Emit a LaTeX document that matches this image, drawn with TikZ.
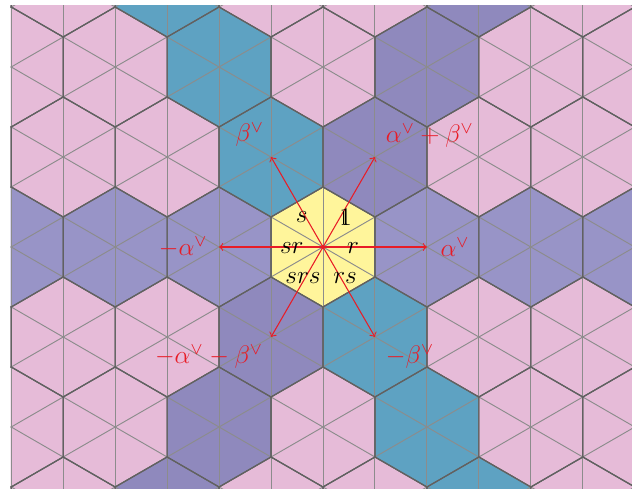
\documentclass[tikz,border=0pt]{standalone}
\usetikzlibrary{calc}
\definecolor{hpink}{RGB}{230,187,216}
\definecolor{hteal}{RGB}{94,162,194}
\definecolor{hdpurp}{RGB}{143,137,189}
\definecolor{hlpurp}{RGB}{152,148,199}
\definecolor{hyell}{RGB}{255,245,155}
\definecolor{hred}{RGB}{232,28,38}
\newcommand{\dsone}{{\rlap{\kern0.155em\vrule height0.56em depth-0.035em width0.03em}1}}
\begin{document}
\begin{tikzpicture}[x=1cm,y=1cm,
  gridline/.style={draw=black!45, line width=0.45pt},
  hexborder/.style={draw=black!62, line width=0.55pt},
  rootarrow/.style={draw=hred, line width=0.5pt, ->},
  rootlabel/.style={text=hred, font=\large, inner sep=1pt},
  wordlabel/.style={text=black, font=\large, inner sep=1pt}]
\useasboundingbox (-5.3833,-4.0333) rectangle (5.15,4.1167);
\begin{scope}
\clip (-5.205,-4.1) rectangle (5.2,4.02);
% hexagon fills
\foreach \m in {-6,...,6}{
  \foreach \n in {-3,...,3}{
    \pgfmathsetmacro{\cx}{sqrt(3)*\m - sqrt(3)/2*\n}
    \pgfmathsetmacro{\cy}{1.5*\n}
    \def\hcol{hpink}
    \ifnum\n=0 \def\hcol{hlpurp}\fi
    \ifnum\m=0 \def\hcol{hteal}\fi
    \ifnum\m=\n \def\hcol{hdpurp}\fi
    \ifnum\m=0 \ifnum\n=0 \def\hcol{hyell}\fi\fi
    \fill[\hcol, shift={(\cx,\cy)}] (30:1.005) -- (90:1.005) -- (150:1.005) -- (210:1.005) -- (270:1.005) -- (330:1.005) -- cycle;
  }
}
% triangle grid
\foreach \k in {-7,...,7}{
  \draw[gridline] ({\k*sqrt(3)/2},-4.5) -- ({\k*sqrt(3)/2},4.5);
}
\foreach \k in {-9,...,9}{
  \draw[gridline] (-6,{-6/sqrt(3)+\k}) -- (6,{6/sqrt(3)+\k});
  \draw[gridline] (-6,{6/sqrt(3)+\k}) -- (6,{-6/sqrt(3)+\k});
}
% hexagon borders
\foreach \m in {-6,...,6}{
  \foreach \n in {-3,...,3}{
    \pgfmathsetmacro{\cx}{sqrt(3)*\m - sqrt(3)/2*\n}
    \pgfmathsetmacro{\cy}{1.5*\n}
    \draw[hexborder, shift={(\cx,\cy)}] (30:1) -- (90:1) -- (150:1) -- (210:1) -- (270:1) -- (330:1) -- cycle;
  }
}
\end{scope}
% coroots
\coordinate (O) at (0,0);
\coordinate (pa) at ({sqrt(3)},0);
\coordinate (na) at ({-sqrt(3)},0);
\coordinate (pb) at ({-sqrt(3)/2},1.5);
\coordinate (nb) at ({sqrt(3)/2},-1.5);
\coordinate (pab) at ({sqrt(3)/2},1.5);
\coordinate (nab) at ({-sqrt(3)/2},-1.5);
\foreach \t in {pa,na,pb,nb,pab,nab} \draw[rootarrow] (O) -- (\t);
\fill[hred] (O) circle (0.035);
% coroot labels
\node[rootlabel] (lpa) at (2.2,0) {$\alpha^\vee$};
\node[rootlabel] (lna) at (-2.33,0) {$-\alpha^\vee$};
\node[rootlabel] (lpb) at (-1.22,1.87) {$\beta^\vee$};
\node[rootlabel] (lnb) at (1.45,-1.83) {$-\beta^\vee$};
\node[rootlabel] (lpab) at (1.78,1.85) {$\alpha^\vee+\beta^\vee$};
\node[rootlabel] (lnab) at (-1.9,-1.83) {$-\alpha^\vee-\beta^\vee$};
% Weyl group elements
\node[wordlabel] (w1) at (0.378,0.505) {\dsone};
\node[wordlabel] (ws) at (-0.355,0.505) {$s$};
\node[wordlabel] (wr) at (0.5,-0.017) {$r$};
\node[wordlabel] (wsr) at (-0.52,-0.017) {$sr$};
\node[wordlabel] (wrs) at (0.367,-0.517) {$rs$};
\node[wordlabel] (wsrs) at (-0.333,-0.517) {$srs$};
\end{tikzpicture}
\end{document}
